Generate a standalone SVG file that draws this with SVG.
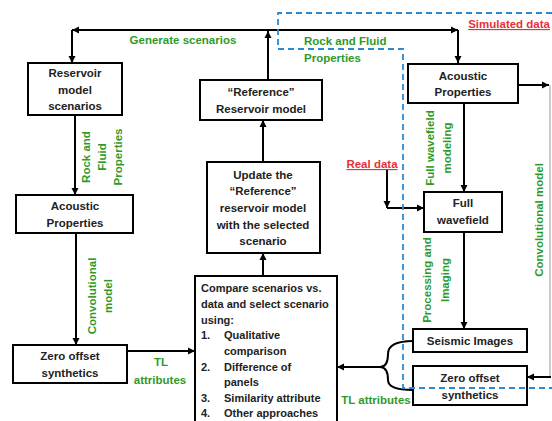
<svg xmlns="http://www.w3.org/2000/svg" width="552" height="421" viewBox="0 0 552 421">
<defs>
<marker id="ah" markerWidth="8" markerHeight="8" refX="7" refY="4" orient="auto" markerUnits="userSpaceOnUse">
<path d="M0,0.5 L7,4 L0,7.5 Z" fill="#000"/>
</marker>
</defs>
<style>
.box{fill:#fff;stroke:#000;stroke-width:2}
.t{font-family:"Liberation Sans",Arial,sans-serif;font-weight:bold;font-size:11.5px;fill:#222;text-anchor:middle}
.tl{font-family:"Liberation Sans",Arial,sans-serif;font-weight:bold;font-size:11px;fill:#222}
.g{font-family:"Liberation Sans",Arial,sans-serif;font-weight:bold;font-size:11.5px;fill:#2f9a2a;text-anchor:middle}
.r{font-family:"Liberation Sans",Arial,sans-serif;font-weight:bold;font-size:11.5px;fill:#e8303a;text-decoration:underline}
.c{fill:none;stroke:#000;stroke-width:2}
.thin{fill:none;stroke:#999;stroke-width:1}
.dash{fill:none;stroke:#2a8ad4;stroke-width:1.8;stroke-dasharray:6,4}
</style>
<rect width="552" height="421" fill="#fff"/>

<g id="connectors">
<path class="c" d="M268,80 V31" marker-end="url(#ah)"/>
<path class="c" d="M268,30 H72" marker-end="url(#ah)"/>
<path class="c" d="M72,30 V63" marker-end="url(#ah)"/>
<path class="c" d="M268,30 H458" marker-end="url(#ah)"/>
<path class="c" d="M458,30 V63" marker-end="url(#ah)"/>
<path class="c" d="M75,115 V195" marker-end="url(#ah)"/>
<path class="c" d="M76,233 V345" marker-end="url(#ah)"/>
<path class="c" d="M127,351 H195" marker-end="url(#ah)"/>
<path class="c" d="M263,162 V120" marker-end="url(#ah)"/>
<path class="c" d="M263,276 V253" marker-end="url(#ah)"/>
<path class="c" d="M464,103 V192" marker-end="url(#ah)"/>
<path class="c" d="M464,232 V329" marker-end="url(#ah)"/>
<path class="c" d="M387,170 V208" marker-end="url(#ah)"/>
<path class="c" d="M387,208 H424" marker-end="url(#ah)"/>
<path class="c" d="M518,85 H549" marker-end="url(#ah)"/>
<path class="thin" d="M550,85 V377"/>
<path class="c" d="M551,377 H527" marker-end="url(#ah)"/>
<path class="c" d="M413,341 Q388,341 388,354 Q388,367 380,367 Q388,367 388,380 Q388,390 413,390"/>
<path class="c" d="M382,367 H337" marker-end="url(#ah)"/>
</g>

<g id="labels">
<text class="g" x="183" y="44">Generate scenarios</text>
<text class="g" x="304" y="45" style="text-anchor:start">Rock and Fluid</text>
<text class="g" x="304" y="62" style="text-anchor:start">Properties</text>
<text class="r" x="550" y="28" style="text-anchor:end">Simulated data</text>
<text class="r" x="372" y="168" style="text-anchor:middle">Real data</text>
<g transform="translate(0,157) rotate(-90)">
<text class="g" x="0" y="90">Rock and</text>
<text class="g" x="0" y="106">Fluid</text>
<text class="g" x="0" y="122">Properties</text>
</g>
<g transform="translate(0,296) rotate(-90)">
<text class="g" x="0" y="96">Convolutional</text>
<text class="g" x="0" y="112">model</text>
</g>
<g transform="translate(0,148) rotate(-90)">
<text class="g" x="0" y="434">Full wavefield</text>
<text class="g" x="0" y="451">modeling</text>
</g>
<g transform="translate(0,280) rotate(-90)">
<text class="g" x="0" y="431">Processing and</text>
<text class="g" x="0" y="449">Imaging</text>
</g>
<g transform="translate(0,220) rotate(-90)">
<text class="g" x="0" y="543">Convolutional model</text>
</g>
<text class="g" x="161" y="366">TL</text>
<text class="g" x="160" y="384">attributes</text>
<text class="g" x="376" y="404">TL attributes</text>
</g>

<g id="reservoir-scenarios">
<rect class="box" x="28" y="63" width="94" height="52"/>
<text class="t" x="75" y="77">Reservoir</text>
<text class="t" x="75" y="94">model</text>
<text class="t" x="75" y="110">scenarios</text>
</g>

<g id="acoustic-left">
<rect class="box" x="16" y="195" width="117" height="38"/>
<text class="t" x="75" y="210">Acoustic</text>
<text class="t" x="75" y="227">Properties</text>
</g>

<g id="zero-offset-left">
<rect class="box" x="13" y="345" width="114" height="38"/>
<text class="t" x="70" y="360">Zero offset</text>
<text class="t" x="70" y="377">synthetics</text>
</g>

<g id="reference-model">
<rect class="box" x="200" y="80" width="122" height="40"/>
<text class="t" x="261" y="96">“Reference”</text>
<text class="t" x="261" y="113">Reservoir model</text>
</g>

<g id="update-model">
<rect class="box" x="207" y="162" width="113" height="91"/>
<text class="t" x="263" y="179">Update the</text>
<text class="t" x="263" y="195">“Reference”</text>
<text class="t" x="263" y="212">reservoir model</text>
<text class="t" x="263" y="229">with the selected</text>
<text class="t" x="263" y="245">scenario</text>
</g>

<g id="compare">
<rect class="box" x="195" y="276" width="142" height="150"/>
<text class="tl" x="201" y="292">Compare scenarios vs.</text>
<text class="tl" x="201" y="308">data and select scenario</text>
<text class="tl" x="201" y="324">using:</text>
<text class="tl" x="201" y="339">1.</text><text class="tl" x="224" y="339">Qualitative</text>
<text class="tl" x="224" y="355">comparison</text>
<text class="tl" x="201" y="371">2.</text><text class="tl" x="224" y="371">Difference of</text>
<text class="tl" x="224" y="386">panels</text>
<text class="tl" x="201" y="402">3.</text><text class="tl" x="224" y="402">Similarity attribute</text>
<text class="tl" x="201" y="417">4.</text><text class="tl" x="224" y="417">Other approaches</text>
</g>

<g id="acoustic-right">
<rect class="box" x="408" y="64" width="110" height="39"/>
<text class="t" x="463" y="80">Acoustic</text>
<text class="t" x="463" y="96">Properties</text>
</g>

<g id="full-wavefield">
<rect class="box" x="424" y="192" width="78" height="40"/>
<text class="t" x="463" y="207">Full</text>
<text class="t" x="463" y="224">wavefield</text>
</g>

<g id="seismic-images">
<rect class="box" x="413" y="329" width="114" height="23"/>
<text class="t" x="470" y="345">Seismic Images</text>
</g>

<g id="zero-offset-right">
<rect class="box" x="413" y="366" width="114" height="39"/>
<text class="t" x="470" y="382">Zero offset</text>
<text class="t" x="470" y="399">synthetics</text>
</g>

<g id="boundary">
<path class="dash" d="M552,13 H278 V49 H403 V388 H552"/>
</g>
</svg>
